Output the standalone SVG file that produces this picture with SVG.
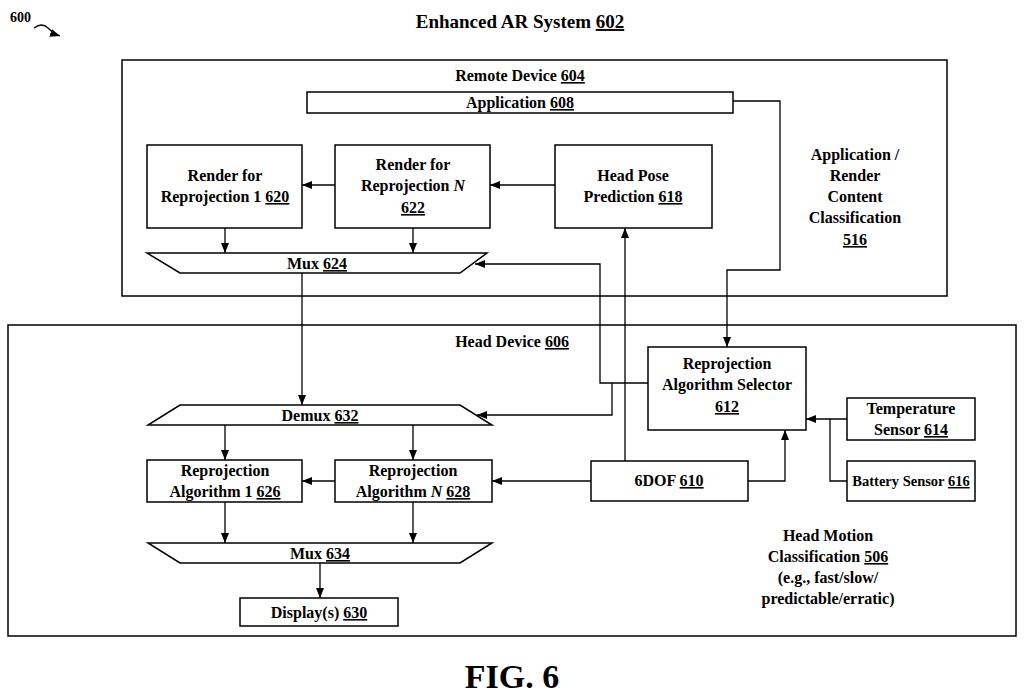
<svg xmlns="http://www.w3.org/2000/svg" width="1024" height="696" viewBox="0 0 1024 696">
<style>
text{font-family:"Liberation Serif","Times New Roman",serif;font-weight:bold;font-size:16px;fill:#000;text-anchor:middle}
.b{fill:#fff;stroke:#000;stroke-width:1.5}
.c{fill:none;stroke:#000;stroke-width:1.3;marker-end:url(#a)}
.l{fill:none;stroke:#000;stroke-width:1.3}
.u{text-decoration:underline}
</style>
<defs><marker id="a" markerWidth="10" markerHeight="8" refX="10" refY="4" orient="auto" markerUnits="userSpaceOnUse"><path d="M0,0L10,4L0,8z"/></marker></defs>
<rect width="1024" height="696" fill="#fff"/>
<text x="10" y="22" style="text-anchor:start;font-size:14px">600</text>
<path d="M34,28 q8,-6 14,0 t12,8" class="c"/>
<text x="520" y="28" style="font-size:19px">Enhanced AR System <tspan class="u">602</tspan></text>
<g id="remote"><rect class="b" x="122" y="60" width="825" height="236"/><text x="520" y="81">Remote Device <tspan class="u">604</tspan></text>
<text x="855" y="160">Application /</text><text x="855" y="181">Render</text><text x="855" y="202">Content</text><text x="855" y="223">Classification</text><text x="855" y="245" class="u">516</text></g>
<g id="head"><rect class="b" x="8" y="325" width="1008" height="311"/><text x="512" y="347">Head Device <tspan class="u">606</tspan></text>
<text x="828" y="541">Head Motion</text><text x="828" y="562">Classification <tspan class="u">506</tspan></text><text x="828" y="583">(e.g., fast/slow/</text><text x="828" y="604">predictable/erratic)</text></g>
<g id="app"><rect class="b" x="307" y="92" width="426" height="21"/><text x="520" y="108">Application <tspan class="u">608</tspan></text></g>
<g id="r1"><rect class="b" x="147" y="145" width="155" height="83"/><text x="225" y="181">Render for</text><text x="225" y="202">Reprojection 1 <tspan class="u">620</tspan></text></g>
<g id="rn"><rect class="b" x="335" y="145" width="155" height="83"/><text x="413" y="170">Render for</text><text x="413" y="191">Reprojection <tspan font-style="italic">N</tspan></text><text x="413" y="213" class="u">622</text></g>
<g id="hp"><rect class="b" x="555" y="145" width="157" height="83"/><text x="633" y="181">Head Pose</text><text x="633" y="202">Prediction <tspan class="u">618</tspan></text></g>
<g id="mux624"><path class="b" d="M147,253H487L460,273H180z"/><text x="317" y="269">Mux <tspan class="u">624</tspan></text></g>
<g id="sel"><rect class="b" x="648" y="347" width="158" height="83"/><text x="727" y="369">Reprojection</text><text x="727" y="390">Algorithm Selector</text><text x="727" y="412" class="u">612</text></g>
<g id="temp"><rect class="b" x="847" y="398" width="128" height="42"/><text x="911" y="414">Temperature</text><text x="911" y="435">Sensor <tspan class="u">614</tspan></text></g>
<g id="bat"><rect class="b" x="847" y="461" width="128" height="40"/><text x="911" y="486" style="font-size:14.5px">Battery Sensor <tspan class="u">616</tspan></text></g>
<g id="dof"><rect class="b" x="591" y="461" width="157" height="40"/><text x="669" y="486">6DOF <tspan class="u">610</tspan></text></g>
<g id="demux"><path class="b" d="M180,405H460L492,425H148z"/><text x="320" y="421">Demux <tspan class="u">632</tspan></text></g>
<g id="ra1"><rect class="b" x="147" y="460" width="155" height="42"/><text x="225" y="476">Reprojection</text><text x="225" y="497">Algorithm 1 <tspan class="u">626</tspan></text></g>
<g id="ran"><rect class="b" x="335" y="460" width="157" height="42"/><text x="413" y="476">Reprojection</text><text x="413" y="497">Algorithm <tspan font-style="italic">N</tspan> <tspan class="u">628</tspan></text></g>
<g id="mux634"><path class="b" d="M148,543H492L460,563H180z"/><text x="320" y="559">Mux <tspan class="u">634</tspan></text></g>
<g id="disp"><rect class="b" x="240" y="598" width="158" height="28"/><text x="319" y="618">Display(s) <tspan class="u">630</tspan></text></g>
<g id="connectors">
<path class="c" d="M733,101H780V270H727V347"/>
<path class="c" d="M648,383H600V264H475"/>
<path class="c" d="M612,383V415H477"/>
<path class="c" d="M625,461V228"/>
<path class="c" d="M591,481H492"/>
<path class="c" d="M748,481H785V430"/>
<path class="c" d="M847,419H806"/>
<path class="l" d="M847,481H830V419"/>
<path class="c" d="M555,185H490"/>
<path class="c" d="M335,185H302"/>
<path class="c" d="M225,228V253"/>
<path class="c" d="M413,228V253"/>
<path class="c" d="M302,273V405"/>
<path class="c" d="M225,425V460"/>
<path class="c" d="M413,425V460"/>
<path class="c" d="M335,481H302"/>
<path class="c" d="M225,502V543"/>
<path class="c" d="M413,502V543"/>
<path class="c" d="M320,563V598"/>
</g>
<text x="512" y="688" style="font-size:34px">FIG. 6</text>
</svg>
